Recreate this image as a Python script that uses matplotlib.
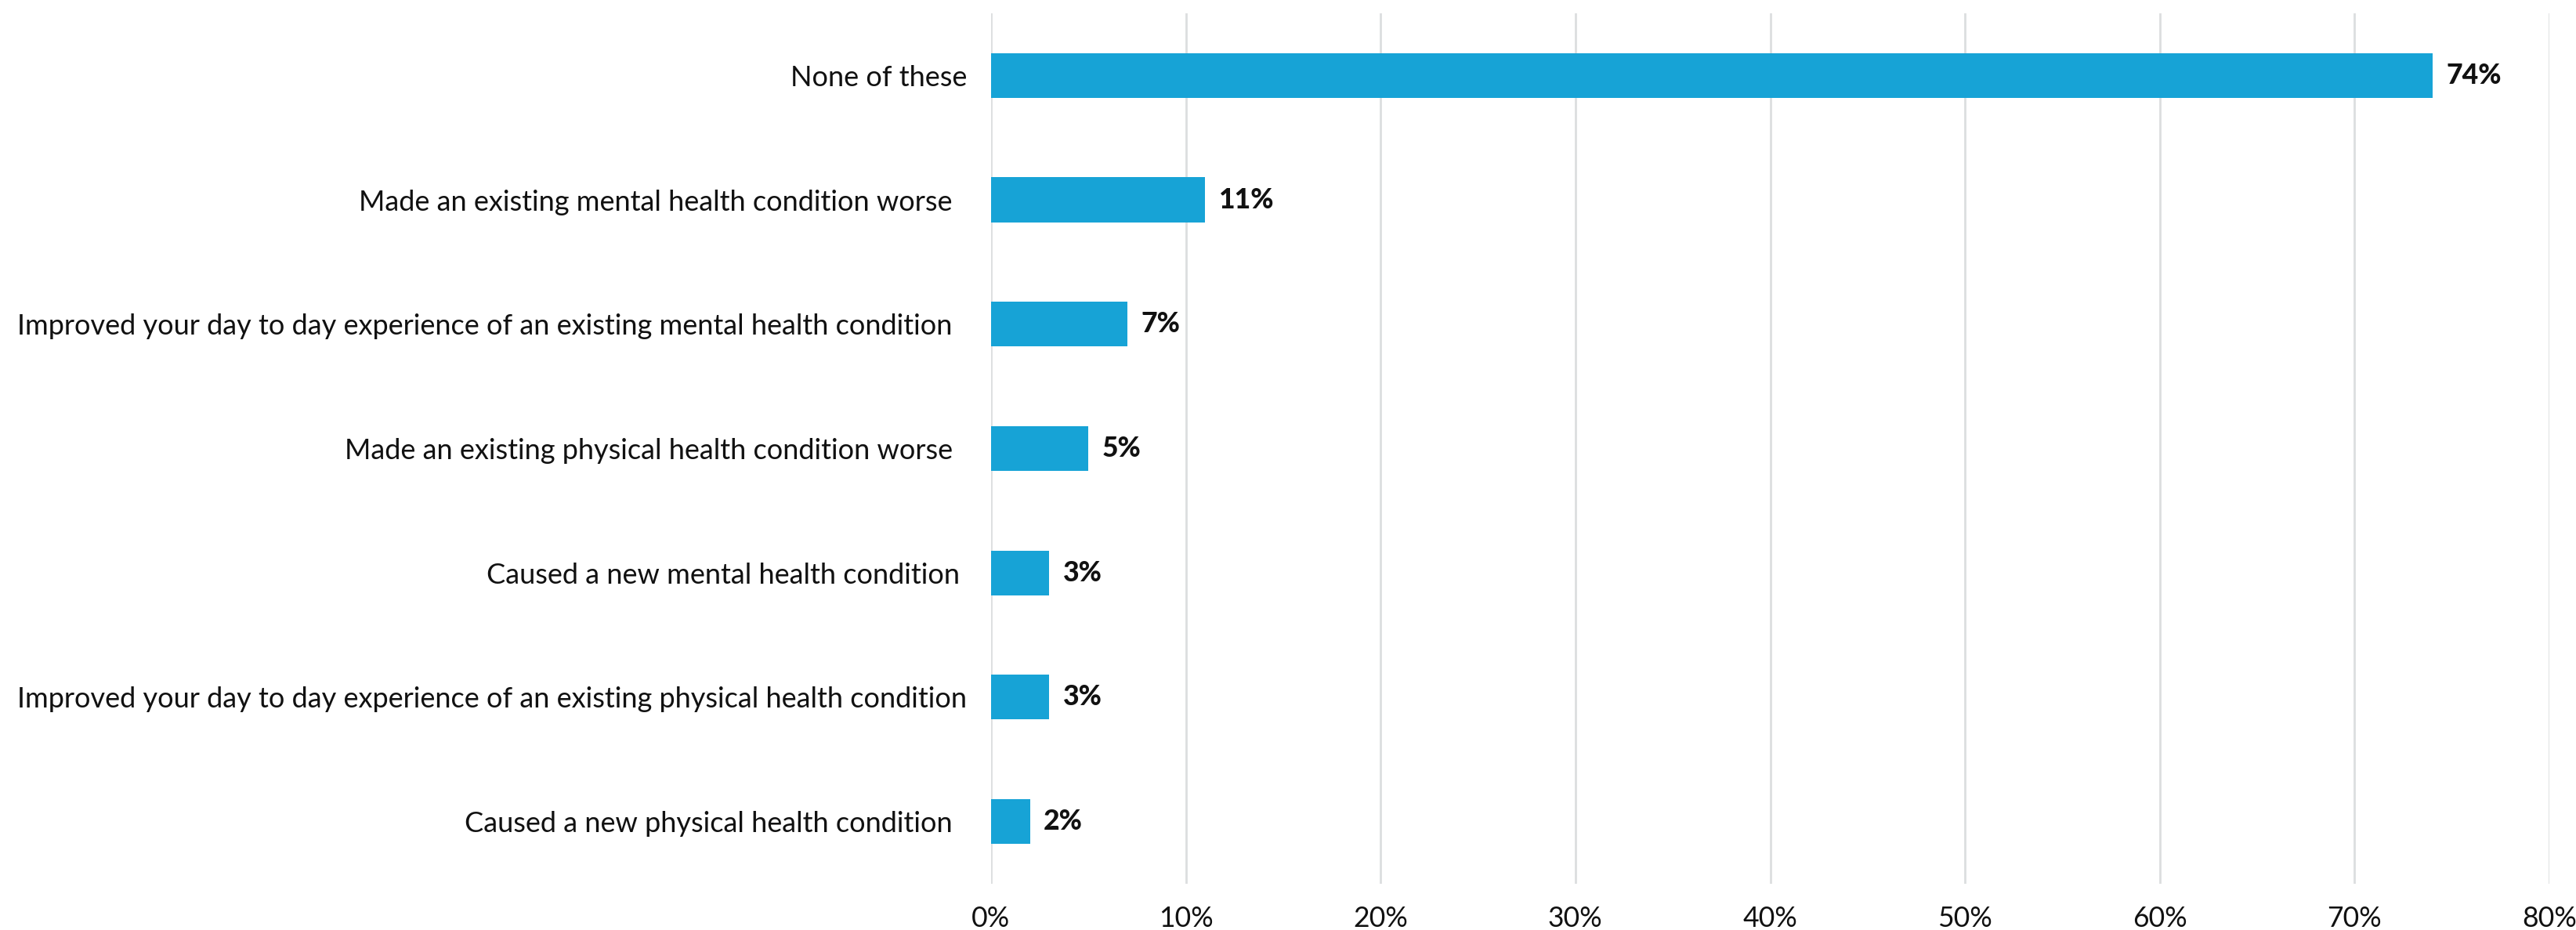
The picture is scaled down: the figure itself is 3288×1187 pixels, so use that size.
import numpy as np
import matplotlib.pyplot as plt
from matplotlib.ticker import FuncFormatter

categories = [
    "None of these",
    "Made an existing mental health condition worse  ",
    "Improved your day to day experience of an existing mental health condition  ",
    "Made an existing physical health condition worse  ",
    "Caused a new mental health condition ",
    "Improved your day to day experience of an existing physical health condition",
    "Caused a new physical health condition  ",
]
values = [74, 11, 7, 5, 3, 3, 2]
xticks = [0, 10, 20, 30, 40, 50, 60, 70, 80]

plt.rcParams['font.family'] = ['Lato', 'DejaVu Sans']

fig = plt.figure(figsize=(16.44, 5.935), dpi=200)
ax = fig.add_axes([0.3847, 0.0497, 0.6050, 0.9360])

y = np.arange(len(categories))
ax.barh(y, values, height=0.36, color='#17a3d6', zorder=3)

for yi, v in zip(y, values):
    ax.text(v + 0.7, yi, f"{v}%", va='center', ha='left', fontsize=12.8,
            fontweight='black', color='#111111')

ax.set_ylim(len(categories) - 0.5, -0.5)
ax.set_xlim(0, 80)
ax.set_yticks(y)
ax.set_yticklabels(categories, fontsize=13, color='#111111')
ax.set_xticks(xticks)
ax.xaxis.set_major_formatter(FuncFormatter(lambda v, p: f"{v:.0f}%"))
ax.tick_params(axis='x', length=0, pad=10, labelsize=12.8, labelcolor='#111111')
ax.tick_params(axis='y', length=0, pad=11)
ax.grid(axis='x', color='#dcdedf', linewidth=1.0, zorder=0)
for s in ax.spines.values():
    s.set_visible(False)

plt.savefig("out.png", dpi=200)
